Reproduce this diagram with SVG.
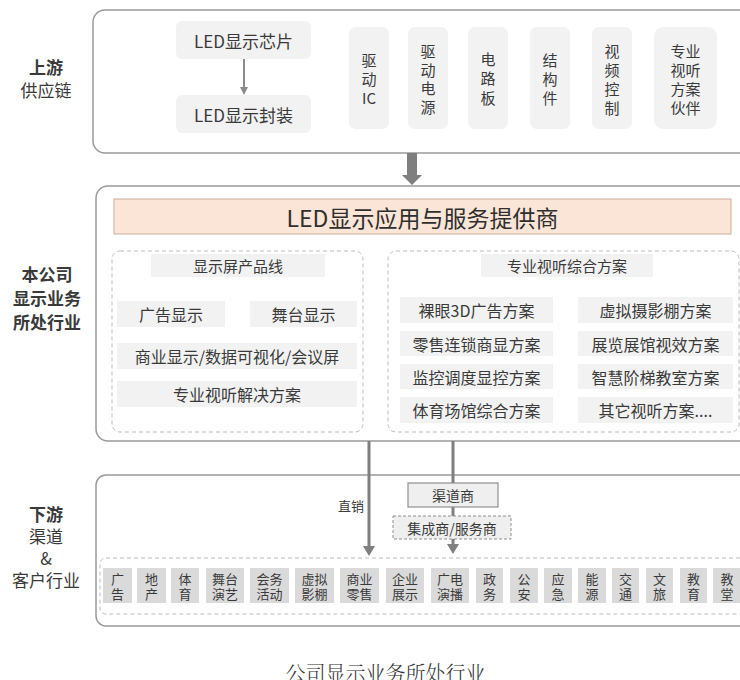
<svg xmlns="http://www.w3.org/2000/svg" width="740" height="680" viewBox="0 0 740 680">
<style>
text{font-family:"Noto Sans CJK SC","Noto Sans",sans-serif;fill:#3a3a3a;text-anchor:middle;dominant-baseline:central}
.outer{fill:#fff;stroke:#9a9a9a;stroke-width:1.5}
.dash{fill:none;stroke:#bdbdbd;stroke-width:1;stroke-dasharray:4 3}
.lt{fill:#f2f2f2;stroke:none}
.ind{fill:#dadada;stroke:none}
.lbl{font-size:17px}
.b{font-weight:bold}
.t15{font-size:15px}
.t16{font-size:16px}
.t13{font-size:13px}
.ln{stroke:#7f7f7f;stroke-width:3;fill:none}
</style>
<defs>
<marker id="ah" markerUnits="userSpaceOnUse" markerWidth="12" markerHeight="12" refX="0" refY="6" orient="auto">
<path d="M0,0 L10,6 L0,12 z" fill="#7f7f7f"/>
</marker>
<marker id="ahs" markerUnits="userSpaceOnUse" markerWidth="8" markerHeight="10" refX="0" refY="4" orient="auto">
<path d="M0,0 L8,4 L0,8 z" fill="#8a8a8a"/>
</marker>
</defs>

<!-- left labels -->
<g id="label-upstream">
<text class="lbl b" x="46" y="66">上游</text>
<text class="lbl" x="46" y="89">供应链</text>
</g>
<g id="label-company">
<text class="lbl b" x="47" y="273">本公司</text>
<text class="lbl b" x="47" y="297">显示业务</text>
<text class="lbl b" x="47" y="321">所处行业</text>
</g>
<g id="label-downstream">
<text class="lbl b" x="46" y="513">下游</text>
<text class="lbl" x="46" y="535">渠道</text>
<text class="lbl" x="46" y="557">&amp;</text>
<text class="lbl" x="46" y="579">客户行业</text>
</g>

<!-- upstream section -->
<g id="upstream">
<rect class="outer" x="93" y="10" width="660" height="143" rx="12"/>
<g id="chip">
<rect class="lt" x="176" y="21" width="135" height="38" rx="6"/>
<text x="243.5" y="40" style="font-size:17px">LED显示芯片</text>
</g>
<g id="package">
<rect class="lt" x="176" y="95" width="135" height="38" rx="6"/>
<text x="243.5" y="114" style="font-size:17px">LED显示封装</text>
</g>
<g id="driver-ic">
<rect class="lt" x="349" y="27" width="40" height="102" rx="7"/>
<text class="t15" x="369" y="59">驱</text>
<text class="t15" x="369" y="78">动</text>
<text class="t15" x="369" y="97">IC</text>
</g>
<g id="driver-power">
<rect class="lt" x="408" y="27" width="40" height="102" rx="7"/>
<text class="t15" x="428" y="50">驱</text>
<text class="t15" x="428" y="69">动</text>
<text class="t15" x="428" y="87.5">电</text>
<text class="t15" x="428" y="106">源</text>
</g>
<g id="pcb">
<rect class="lt" x="468" y="27" width="40" height="102" rx="7"/>
<text class="t15" x="488" y="58">电</text>
<text class="t15" x="488" y="77.5">路</text>
<text class="t15" x="488" y="97">板</text>
</g>
<g id="structure">
<rect class="lt" x="530" y="27" width="40" height="102" rx="7"/>
<text class="t15" x="550" y="59">结</text>
<text class="t15" x="550" y="78">构</text>
<text class="t15" x="550" y="97">件</text>
</g>
<g id="video-control">
<rect class="lt" x="592" y="27" width="40" height="102" rx="7"/>
<text class="t15" x="612" y="50">视</text>
<text class="t15" x="612" y="69">频</text>
<text class="t15" x="612" y="88">控</text>
<text class="t15" x="612" y="107">制</text>
</g>
<g id="av-partner">
<rect class="lt" x="654" y="27" width="63" height="102" rx="9"/>
<text class="t15" x="685.5" y="50">专业</text>
<text class="t15" x="685.5" y="69">视听</text>
<text class="t15" x="685.5" y="88">方案</text>
<text class="t15" x="685.5" y="107">伙伴</text>
</g>
</g>

<!-- company section -->
<g id="company">
<rect class="outer" x="96" y="186" width="657" height="255" rx="12"/>
<g id="banner">
<rect x="114" y="199" width="617" height="35" fill="#fbe5d6" stroke="#cfae9c" stroke-width="1"/>
<text x="422.5" y="217" style="font-size:23px;fill:#2f2f2f">LED显示应用与服务提供商</text>
</g>
<g id="product-line">
<rect class="dash" x="112" y="251" width="251" height="181" rx="8"/>
<rect class="lt" x="151" y="254" width="174" height="23"/>
<text class="t15" x="238" y="265.5">显示屏产品线</text>
<rect class="lt" x="117" y="301" width="108" height="26"/>
<text class="t16" x="171" y="314">广告显示</text>
<rect class="lt" x="250" y="301" width="107" height="26"/>
<text class="t16" x="303.5" y="314">舞台显示</text>
<rect class="lt" x="117" y="343" width="240" height="26"/>
<text class="t16" x="237" y="356">商业显示/数据可视化/会议屏</text>
<rect class="lt" x="117" y="381" width="240" height="26"/>
<text class="t16" x="237" y="394">专业视听解决方案</text>
</g>
<g id="av-solutions">
<rect class="dash" x="388" y="251" width="351" height="181" rx="8"/>
<rect class="lt" x="481" y="254" width="172" height="23"/>
<text class="t15" x="567" y="265.5">专业视听综合方案</text>
<rect class="lt" x="400" y="297" width="153" height="26"/>
<text class="t16" x="476.5" y="310">裸眼3D广告方案</text>
<rect class="lt" x="400" y="331" width="153" height="25"/>
<text class="t16" x="476.5" y="343.5">零售连锁商显方案</text>
<rect class="lt" x="400" y="364" width="153" height="25"/>
<text class="t16" x="476.5" y="376.5">监控调度显控方案</text>
<rect class="lt" x="400" y="397" width="153" height="26"/>
<text class="t16" x="476.5" y="410">体育场馆综合方案</text>
<rect class="lt" x="578" y="297" width="155" height="26"/>
<text class="t16" x="655.5" y="310">虚拟摄影棚方案</text>
<rect class="lt" x="578" y="331" width="155" height="25"/>
<text class="t16" x="655.5" y="343.5">展览展馆视效方案</text>
<rect class="lt" x="578" y="364" width="155" height="25"/>
<text class="t16" x="655.5" y="376.5">智慧阶梯教室方案</text>
<rect class="lt" x="578" y="397" width="155" height="26"/>
<text class="t16" x="655.5" y="410">其它视听方案....</text>
</g>
</g>

<!-- downstream section -->
<g id="downstream">
<rect class="outer" x="96" y="475" width="657" height="151" rx="10"/>
<rect class="dash" x="100" y="558" width="660" height="56" rx="6"/>
</g>

<!-- connectors -->
<g id="connectors">
<line x1="244" y1="59" x2="244" y2="87" stroke="#8a8a8a" stroke-width="2" marker-end="url(#ahs)"/>
<polygon points="407,153 417,153 417,175 422,175 412,185 402,175 407,175" fill="#7f7f7f"/>
<line class="ln" x1="369" y1="441" x2="369" y2="546" marker-end="url(#ah)"/>
<line class="ln" x1="453" y1="441" x2="453" y2="544" marker-end="url(#ah)"/>
<text class="t13" x="351" y="505">直销</text>
</g>

<g id="channel">
<rect x="408" y="483" width="90" height="24" fill="#efefef" stroke="#8f8f8f" stroke-width="1.2"/>
<text style="font-size:14px" x="453" y="495">渠道商</text>
</g>
<g id="integrator">
<rect x="393" y="516" width="118" height="23" fill="#efefef" stroke="#8f8f8f" stroke-width="1" stroke-dasharray="3 2"/>
<text style="font-size:14px" x="452" y="527.5">集成商/服务商</text>
</g>

<g id="industries">
<g id="ind-ad"><rect class="ind" x="103" y="568" width="29" height="35"/><text class="t13" x="117.5" y="578">广</text><text class="t13" x="117.5" y="593">告</text></g>
<g id="ind-realestate"><rect class="ind" x="137" y="568" width="29" height="35"/><text class="t13" x="151.5" y="578">地</text><text class="t13" x="151.5" y="593">产</text></g>
<g id="ind-sports"><rect class="ind" x="171" y="568" width="28" height="35"/><text class="t13" x="185" y="578">体</text><text class="t13" x="185" y="593">育</text></g>
<g id="ind-stage"><rect class="ind" x="206" y="568" width="38" height="35"/><text class="t13" x="225" y="578">舞台</text><text class="t13" x="225" y="593">演艺</text></g>
<g id="ind-event"><rect class="ind" x="250" y="568" width="39" height="35"/><text class="t13" x="269.5" y="578">会务</text><text class="t13" x="269.5" y="593">活动</text></g>
<g id="ind-virtual"><rect class="ind" x="295" y="568" width="39" height="35"/><text class="t13" x="314.5" y="578">虚拟</text><text class="t13" x="314.5" y="593">影棚</text></g>
<g id="ind-retail"><rect class="ind" x="340" y="568" width="39" height="35"/><text class="t13" x="359.5" y="578">商业</text><text class="t13" x="359.5" y="593">零售</text></g>
<g id="ind-enterprise"><rect class="ind" x="386" y="568" width="38" height="35"/><text class="t13" x="405" y="578">企业</text><text class="t13" x="405" y="593">展示</text></g>
<g id="ind-broadcast"><rect class="ind" x="431" y="568" width="38" height="35"/><text class="t13" x="450" y="578">广电</text><text class="t13" x="450" y="593">演播</text></g>
<g id="ind-gov"><rect class="ind" x="476" y="568" width="27" height="35"/><text class="t13" x="489.5" y="578">政</text><text class="t13" x="489.5" y="593">务</text></g>
<g id="ind-police"><rect class="ind" x="510" y="568" width="28" height="35"/><text class="t13" x="524" y="578">公</text><text class="t13" x="524" y="593">安</text></g>
<g id="ind-emergency"><rect class="ind" x="544" y="568" width="28" height="35"/><text class="t13" x="558" y="578">应</text><text class="t13" x="558" y="593">急</text></g>
<g id="ind-energy"><rect class="ind" x="578" y="568" width="28" height="35"/><text class="t13" x="592" y="578">能</text><text class="t13" x="592" y="593">源</text></g>
<g id="ind-traffic"><rect class="ind" x="612" y="568" width="27" height="35"/><text class="t13" x="625.5" y="578">交</text><text class="t13" x="625.5" y="593">通</text></g>
<g id="ind-tourism"><rect class="ind" x="646" y="568" width="27" height="35"/><text class="t13" x="659.5" y="578">文</text><text class="t13" x="659.5" y="593">旅</text></g>
<g id="ind-education"><rect class="ind" x="680" y="568" width="27" height="35"/><text class="t13" x="693.5" y="578">教</text><text class="t13" x="693.5" y="593">育</text></g>
<g id="ind-church"><rect class="ind" x="713" y="568" width="28" height="35"/><text class="t13" x="727" y="578">教</text><text class="t13" x="727" y="593">堂</text></g>
</g>

<text x="385.5" y="672" style="font-size:20px;fill:#333;font-family:'Noto Serif CJK SC','Noto Sans CJK SC',serif;font-weight:300">公司显示业务所处行业</text>
</svg>
